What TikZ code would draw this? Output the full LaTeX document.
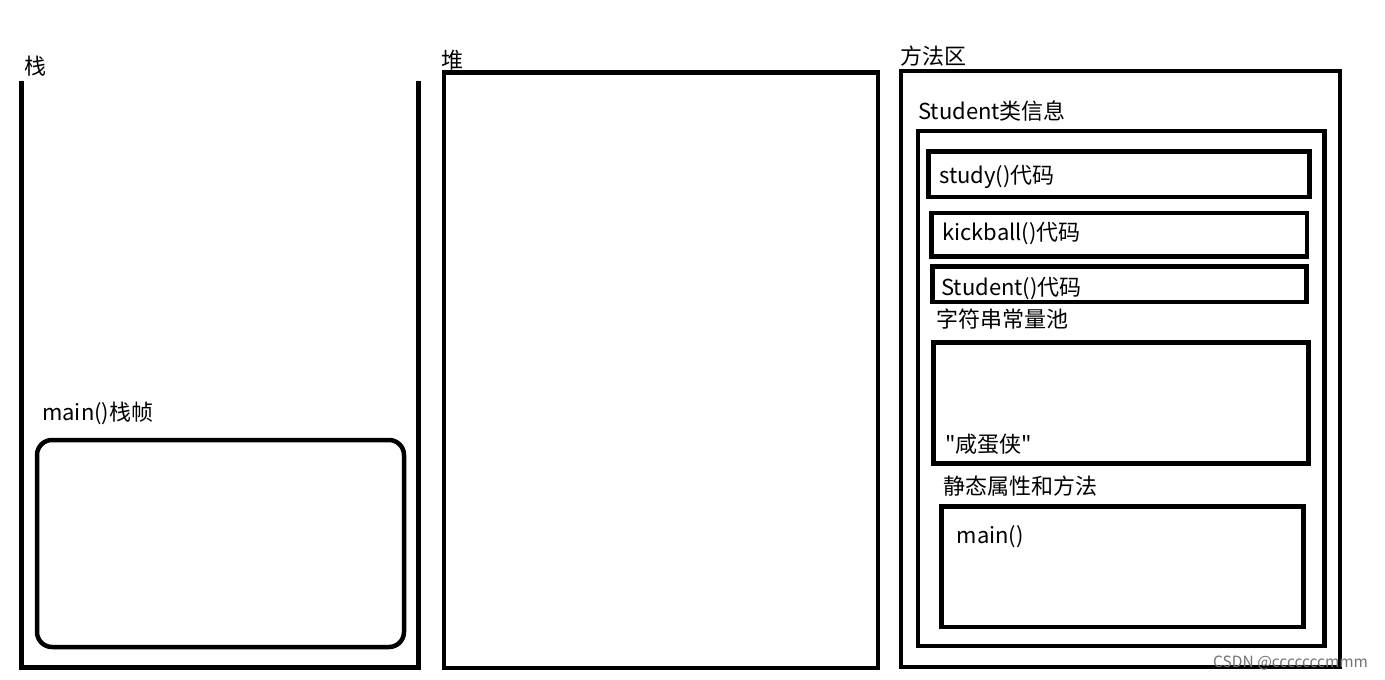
\documentclass[tikz,border=0pt]{standalone}
\usepackage{fontspec}
\setmainfont{Noto Sans CJK SC}
\newfontfamily\cjkplain{Noto Sans CJK SC}
\begin{document}
\begin{tikzpicture}[x=1pt,y=-1pt,
  box/.style={line width=4.5pt,draw=black,line join=miter},
  lbl/.style={anchor=west,inner sep=0pt,font=\cjkplain\fontsize{22}{26}\selectfont,text=black},
  wm/.style={anchor=west,inner sep=0pt,font=\cjkplain\fontsize{15.5}{18}\selectfont,text=black!55}]
\useasboundingbox (0,0) rectangle (1385,680);
\fill[white] (0,0) rectangle (1385,680);
% stack
\draw[box] (21.5,81) -- (21.5,667.5) -- (418.5,667.5) -- (418.5,81);
\draw[box,rounded corners=15pt] (37,440) rectangle (404,647);
\node[lbl] (stackT) at (24,66) {栈};
\node[lbl] (frameT) at (42,413) {main()栈帧};
% heap
\draw[box] (444,72.5) rectangle (878,668);
\node[lbl] (heapT) at (441,60) {堆};
% method area
\draw[box] (901,71) rectangle (1340,667);
\node[lbl] (methT) at (900,56) {方法区};
\draw[box] (918,131) rectangle (1324.5,646);
\node[lbl] (clsT) at (918,111) {Student类信息};
\draw[box] (928.5,151.5) rectangle (1309.5,197);
\node[lbl] (studyT) at (939,176.5) {study()代码};
\draw[box] (931.5,213) rectangle (1307,256.5);
\node[lbl] (kickT) at (942,234) {kickball()代码};
\draw[box] (932.5,266.5) rectangle (1306.5,302);
\node[lbl] (ctorT) at (941,289) {Student()代码};
\node[lbl] (poolT) at (936,319) {字符串常量池};
\draw[box] (933.5,342.5) rectangle (1308.5,463.5);
\node[lbl] (strT) at (945,444.5) {"咸蛋侠"};
\node[lbl] (staticT) at (943,486.5) {静态属性和方法};
\draw[box] (941.5,506.5) rectangle (1303.5,627);
\node[lbl] (mainT) at (956.5,537) {main()};
\node[wm] (wmT) at (1213,663) {CSDN @cccccccmmm};
\end{tikzpicture}
\end{document}
